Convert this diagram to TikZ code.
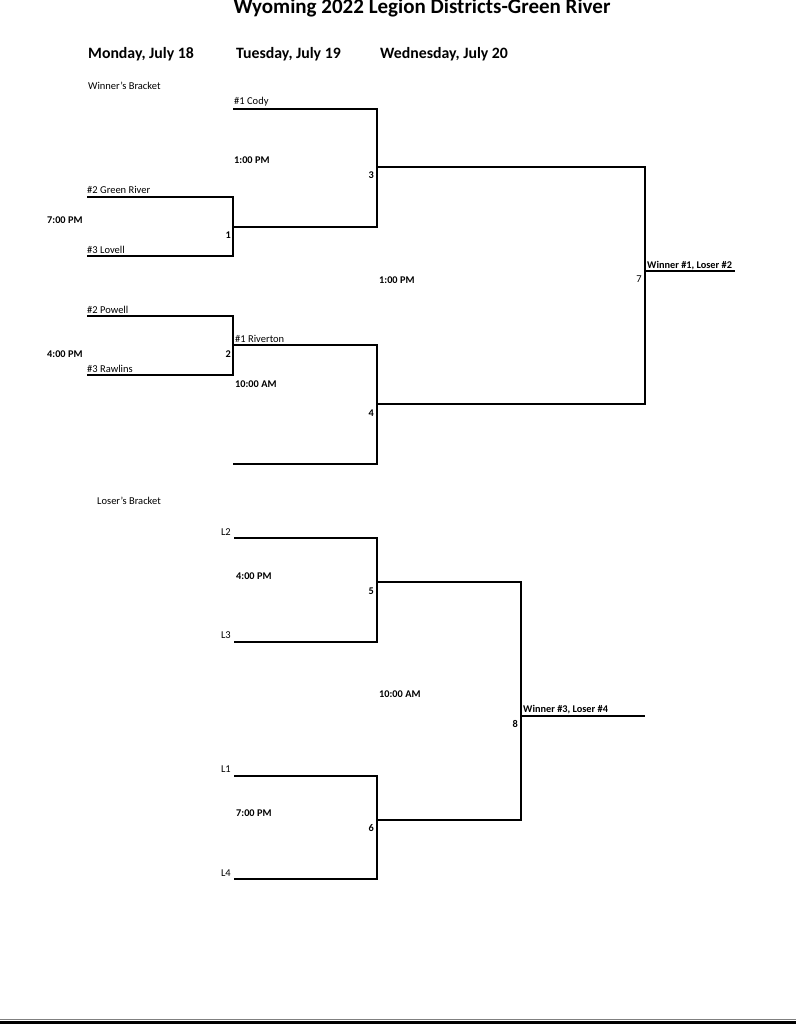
\documentclass[tikz,border=0pt]{standalone}
\usepackage{fontspec}
\setmainfont{Carlito}
\usetikzlibrary{positioning}
\tikzset{
    every node/.style={font=\fontsize{10.5}{12}\selectfont, inner sep=0pt},
    team/.style={anchor=base west},
    seed/.style={anchor=base east},
    slot/.style={anchor=base west, font=\bfseries\fontsize{10.3}{12}\selectfont},
    game/.style={anchor=base east, font=\bfseries\fontsize{10.3}{12}\selectfont},
    day/.style={anchor=base west, font=\bfseries\fontsize{15.8}{18}\selectfont},
    bracket/.style={line width=1.8pt},
}

\begin{document}
\begin{tikzpicture}[x=1pt,y=-1pt]
   \useasboundingbox (0,0) rectangle (796,1024);
% title and the three days
   \node[anchor=base, font=\bfseries\fontsize{21}{24}\selectfont] (title) at (422,14) {Wyoming 2022 Legion Districts-Green River};
   \node[day] (mon) at (88,59) {Monday, July 18};
   \node[day] (tue) at (236,59) {Tuesday, July 19};
   \node[day] (wed) at (380,59) {Wednesday, July 20};
% winner's bracket: line ends and game junctions
   \node[team] (wb) at (88,90) {Winner's Bracket};
   \coordinate (cody) at (233,109);
   \coordinate (green) at (87,197);
   \coordinate (lovell) at (87,256);
   \coordinate (powell) at (87,316);
   \coordinate (rawlins) at (87,375);
   \coordinate (bye) at (233,464);
   \coordinate (g1) at (233,227);
   \coordinate (g2) at (233,345);
   \coordinate (g3) at (377,167);
   \coordinate (g4) at (377,404);
   \coordinate (g7) at (645,271);
   \coordinate (champ) at (735,271);
   \draw[bracket] (green) -| (g1);
   \draw[bracket] (lovell) -| (g1);
   \draw[bracket] (powell) -| (g2);
   \draw[bracket] (rawlins) -| (g2);
   \draw[bracket] (cody) -| (g3);
   \draw[bracket] (g1) -| (g3);
   \draw[bracket] (g2) -| (g4);
   \draw[bracket] (bye) -| (g4);
   \draw[bracket] (g3) -| (g7);
   \draw[bracket] (g4) -| (g7);
   \draw[bracket] (g7) -- (champ);
% teams and times
   \node[team] (t_cody) at (234,105) {\#1 Cody};
   \node[team] (t_green) at (87,194) {\#2 Green River};
   \node[team] (t_lovell) at (87,253) {\#3 Lovell};
   \node[team] (t_powell) at (87,313) {\#2 Powell};
   \node[team] (t_riverton) at (235,342) {\#1 Riverton};
   \node[team] (t_rawlins) at (87,372) {\#3 Rawlins};
   \node[slot] (s1) at (47,223) {7:00 PM};
   \node[slot] (s2) at (47,357) {4:00 PM};
   \node[slot] (s3) at (234,164) {1:00 PM};
   \node[slot] (s4) at (235,387) {10:00 AM};
   \node[slot] (s7) at (379,283) {1:00 PM};
   \node[game] (n1) at (231,238) {1};
   \node[game] (n2) at (231,357) {2};
   \node[game] (n3) at (374,179) {3};
   \node[game] (n4) at (374,416) {4};
   \node[seed] (n7) at (642,282) {7};
   \node[slot] (w7) at (647,268) {Winner \#1, Loser \#2};
% loser's bracket
   \node[team] (lb) at (97,504) {Loser's Bracket};
   \coordinate (l2) at (234,538);
   \coordinate (l3) at (234,642);
   \coordinate (l1) at (234,776);
   \coordinate (l4) at (234,879);
   \coordinate (g5) at (377,582);
   \coordinate (g6) at (377,820);
   \coordinate (g8) at (521,716);
   \coordinate (final) at (645,716);
   \draw[bracket] (l2) -| (g5);
   \draw[bracket] (l3) -| (g5);
   \draw[bracket] (l1) -| (g6);
   \draw[bracket] (l4) -| (g6);
   \draw[bracket] (g5) -| (g8);
   \draw[bracket] (g6) -| (g8);
   \draw[bracket] (g8) -- (final);
   \node[seed] (t_l2) at (231,535) {L2};
   \node[seed] (t_l3) at (231,638) {L3};
   \node[seed] (t_l1) at (231,772) {L1};
   \node[seed] (t_l4) at (231,876) {L4};
   \node[slot] (s5) at (236,579) {4:00 PM};
   \node[slot] (s8) at (379,697) {10:00 AM};
   \node[slot] (s6) at (236,816) {7:00 PM};
   \node[game] (n5) at (374,594) {5};
   \node[game] (n6) at (374,831) {6};
   \node[game] (n8) at (518,727) {8};
   \node[slot] (w8) at (523,712) {Winner \#3, Loser \#4};
% page edge
   \fill (0,1020.5) rectangle (796,1024);
   \draw[gray, line width=1pt] (0,1019.5) -- (796,1019.5);
\end{tikzpicture}
\end{document}
